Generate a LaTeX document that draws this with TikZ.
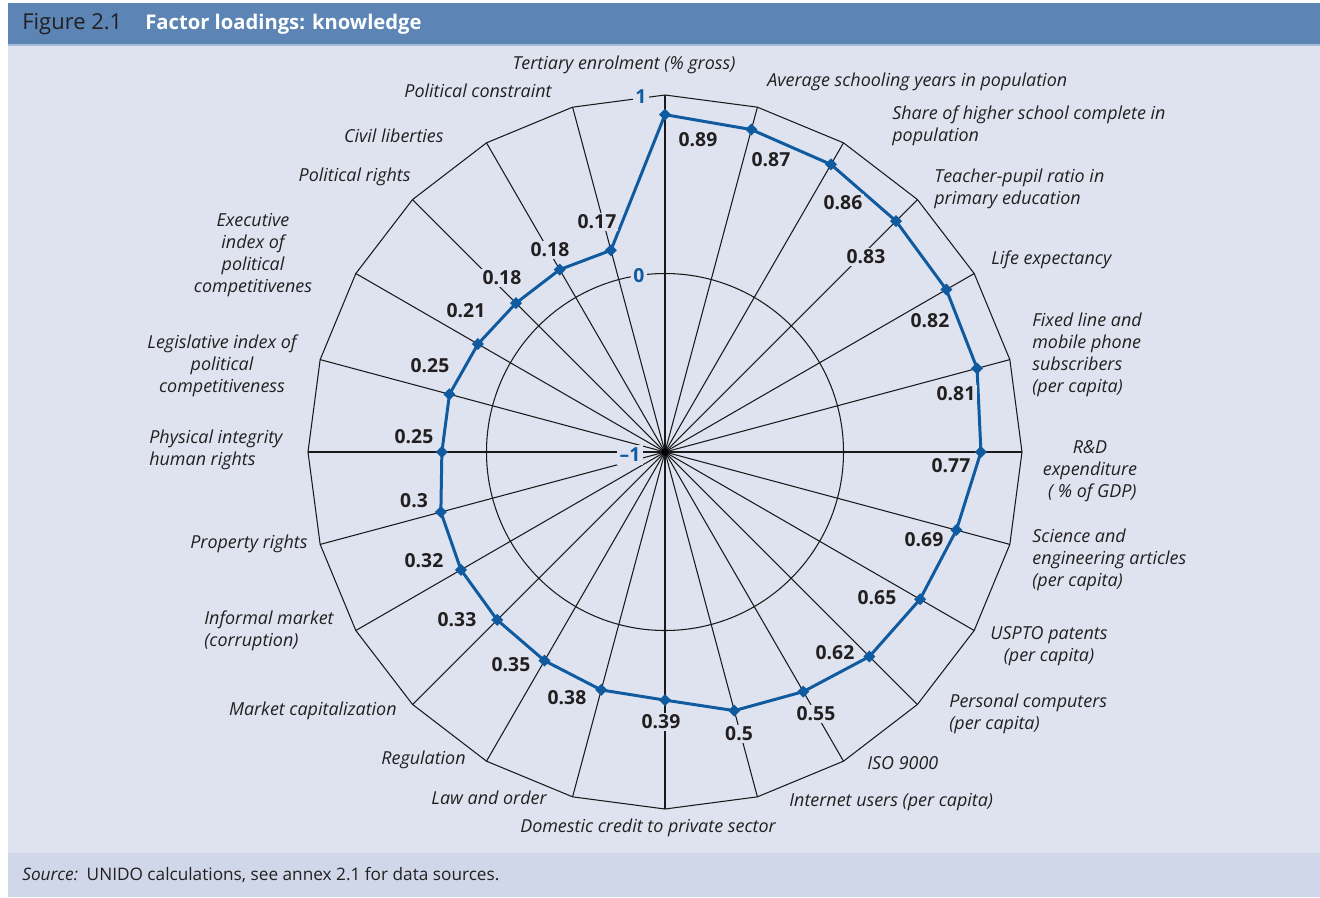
\documentclass[tikz,border=0pt]{standalone}
\usepackage{fontspec}
\setmainfont{Open Sans}
\usetikzlibrary{shapes.geometric}
\definecolor{headblue}{RGB}{92,133,182}
\definecolor{panelbg}{RGB}{222,227,239}
\definecolor{footbg}{RGB}{207,215,233}
\definecolor{lineblue}{RGB}{16,90,160}
\definecolor{inkgray}{RGB}{35,31,32}
\tikzset{
  catlabel/.style={font=\fontsize{10.2}{12.5}\selectfont\itshape, text=inkgray, inner sep=0pt},
  vallabel/.style={font=\fontsize{11}{12}\selectfont\bfseries, text=inkgray, fill=panelbg, inner sep=1pt},
  scalelabel/.style={font=\fontsize{11}{12}\selectfont\bfseries, text=lineblue, fill=panelbg, inner sep=1.5pt},
  marker/.style={diamond, fill=lineblue, inner sep=0pt, minimum size=7pt},
  grille/.style={line width=0.6pt, black!90},
}
\begin{document}
\begin{tikzpicture}[x=0.02cm,y=-0.02cm]
  \pgfmathsetmacro{\cx}{665}
  \pgfmathsetmacro{\cy}{452}
  \pgfmathsetmacro{\rayon}{357}
  \pgfmathsetmacro{\rzero}{0.5*\rayon}
  \useasboundingbox (0,0) rectangle (1320,897);
  \fill[headblue] (8,3) rectangle (1320,45);
  \fill[panelbg] (8,45) rectangle (1320,853);
  \fill[footbg] (8,853) rectangle (1320,897);
  \draw[headblue!55, line width=0.6pt] (8,45) -- (1320,45);
  \node[anchor=west, inner sep=0pt, text=inkgray, font=\fontsize{12.5}{15}\selectfont] (numfig) at (22,24) {Figure 2.1};
  \node[anchor=west, inner sep=0pt, text=white, font=\fontsize{11.5}{14}\selectfont\bfseries] (titre) at (145,24) {Factor loadings: knowledge};
  \coordinate (centre) at (\cx,\cy);
  \begin{scope}[shift={(\cx,\cy)}]
    \foreach \i in {0,...,23} \draw[grille] (0,0) -- (15*\i-90:\rayon);
    \draw[grille] (0,0) circle[radius=\rzero];
    \draw[grille, line join=miter] (-90:\rayon) \foreach \i in {1,...,23} {-- (15*\i-90:\rayon)} -- cycle;
    \fill (0,0) circle[radius=4];
    \foreach \v [count=\i from 0] in {0.89,0.87,0.86,0.83,0.82,0.81,0.77,0.69,0.65,0.62,0.55,0.5,0.39,0.38,0.35,0.33,0.32,0.3,0.25,0.25,0.21,0.18,0.18,0.17}
      \coordinate (p\i) at (15*\i-90:{(\v+1)/2*\rayon});
  \end{scope}
  \node[scalelabel] (un) at (641,97) {1};
  \node[scalelabel] (zero) at (639,276) {0};
  \node[scalelabel] (moinsun) at (630,455) {--1};
  \draw[lineblue, line width=1.7pt, line join=round] (p0) \foreach \i in {1,...,23} {-- (p\i)} -- cycle;
  \foreach \i in {0,...,23} \node[marker] (m\i) at (p\i) {};
  \foreach \val/\lx/\ly [count=\i from 0] in {0.89/698/140, 0.87/771/160, 0.86/843/203, 0.83/866/257,
      0.82/930/321, 0.81/956/394, 0.77/951/466, 0.69/924/540, 0.65/877/598, 0.62/835/653,
      0.55/816/714, 0.5/739/734, 0.39/661/722, 0.38/567/698, 0.35/511/665, 0.33/457/620,
      0.32/424/561, 0.3/414/501, 0.25/414/437, 0.25/430/366, 0.21/466/311, 0.18/502/278,
      0.18/550/250, 0.17/597/222}
    \node[vallabel] (v\i) at (\lx,\ly) {\val};
  \foreach \lx/\ly/\anc/\al/\txt [count=\i from 0] in {
      624/65/center/center/{Tertiary enrolment (\% gross)},
      767/82/west/left/{Average schooling years in population},
      892/125.5/west/left/{Share of higher school complete in\\population},
      934/189/west/left/{Teacher-pupil ratio in\\primary education},
      991/260/west/left/{Life expectancy},
      1032/355/west/left/{Fixed line and\\mobile phone\\subscribers\\(per capita)},
      1090/471/center/center/{R\&D\\expenditure\\\ ( \% of GDP)},
      1032/560/west/left/{Science and\\engineering articles\\(per capita)},
      1049/646/center/center/{USPTO patents\\(per capita)},
      949/714/west/left/{Personal computers\\(per capita)},
      867/763/west/left/{ISO 9000},
      789/802/west/left/{Internet users (per capita)},
      648/828/center/center/{Domestic credit to private sector},
      547/798/east/right/{Law and order},
      466/760/east/right/{Regulation},
      397/711/east/right/{Market capitalization},
      204/630.5/west/left/{Informal market\\(corruption)},
      308/544/east/right/{Property rights},
      149/450/west/left/{Physical integrity\\human rights},
      222/366/center/center/{Legislative index of\\political\\competitiveness},
      253/255/center/center/{Executive\\index of\\political\\competitivenes},
      411/177/east/right/{Political rights},
      444/136/east/right/{Civil liberties},
      552/91/east/right/{Political constraint}}
    \node[catlabel, anchor=\anc, align=\al] (c\i) at (\lx,\ly) {\txt};
  \node[anchor=west, inner sep=0pt, text=inkgray, font=\fontsize{9.8}{12}\selectfont] (source) at (22,875) {\textit{Source:}\hspace{0.5em}UNIDO calculations, see annex 2.1 for data sources.};
\end{tikzpicture}
\end{document}
